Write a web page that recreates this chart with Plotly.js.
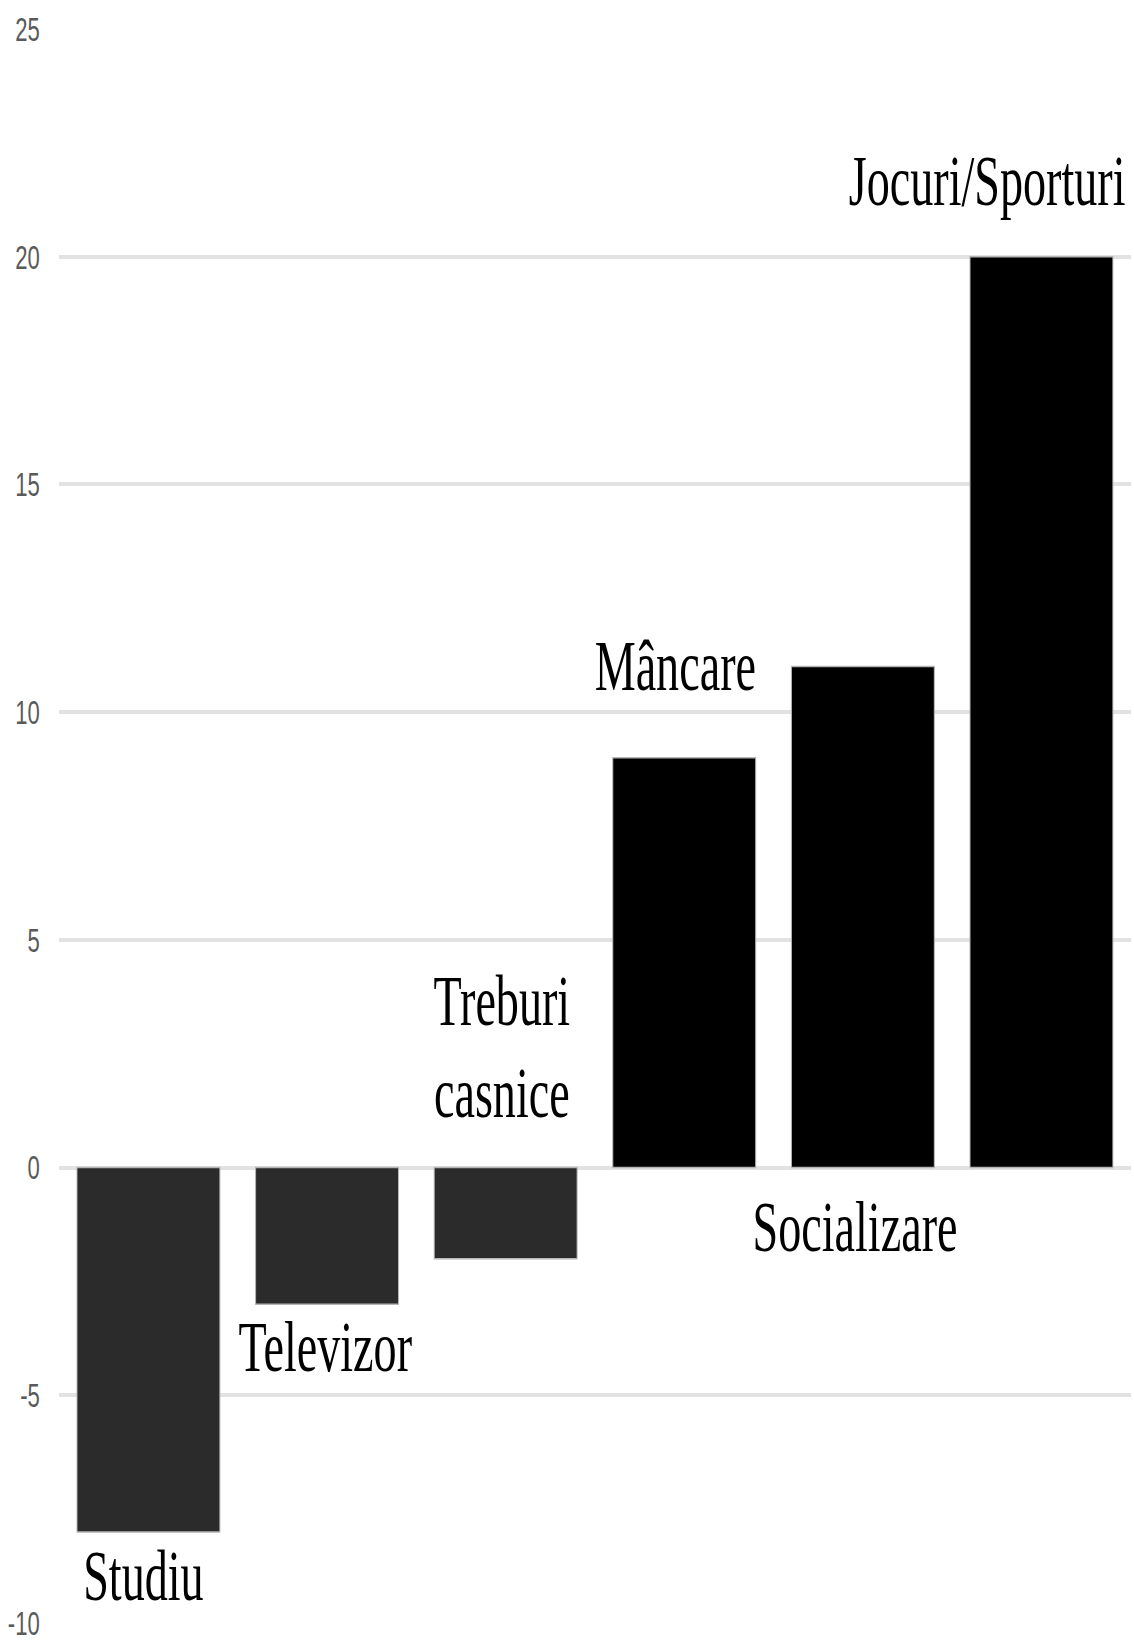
<!DOCTYPE html>
<html>
<head>
<meta charset="utf-8">
<script src="https://cdn.plot.ly/plotly-3.0.1.min.js"></script>
<style>
  html, body { margin: 0; padding: 0; overflow: hidden; background: #fff; }
  #wrap { width: 1134px; height: 1646px; overflow: hidden; }
  /* the chart is laid out wide and squeezed horizontally, giving tall narrow lettering */
  #chart { width: 1745px; height: 1646px; transform: scaleX(0.64986); transform-origin: 0 0; }
</style>
</head>
<body>
<div id="wrap"><div id="chart"></div></div>
<script>
// Activity categories and their change values
const categories = ['Studiu', 'Televizor', 'Treburi casnice', 'Mâncare', 'Socializare', 'Jocuri/Sporturi'];
const values = [-8, -3, -2, 9, 11, 20];
const labelTexts = ['Studiu', 'Televizor', 'Treburi<br>casnice', 'Mâncare', 'Socializare', 'Jocuri/Sporturi'];
const tickValues = [-10, -5, 0, 5, 10, 15, 20, 25];

// label placement: anchor at bar end or at zero, then shift in pixels
const labelPlacement = [
  { atZero: false, yanchor: 'middle', xshift: -8,  yshift: -44 },
  { atZero: false, yanchor: 'middle', xshift: -3,  yshift: -43 },
  { atZero: true,  yanchor: 'bottom', xshift: -6,  yshift: 34 },
  { atZero: false, yanchor: 'middle', xshift: -14, yshift: 92 },
  { atZero: true,  yanchor: 'middle', xshift: -12, yshift: -59 },
  { atZero: false, yanchor: 'middle', xshift: -84, yshift: 76 }
];

const barColors = values.map(v => v < 0 ? '#2b2b2b' : '#000000');

const trace = {
  type: 'bar',
  x: categories,
  y: values,
  marker: { color: barColors, line: { color: '#b5b5b5', width: 1.5 } },
  hoverinfo: 'x+y'
};

const labelFont = { family: 'Liberation Serif, Times New Roman, serif', size: 71, color: '#000' };

const annotations = categories.map((c, i) => {
  const p = labelPlacement[i];
  return {
    x: c,
    y: p.atZero ? 0 : values[i],
    xref: 'x', yref: 'y',
    text: labelTexts[i],
    showarrow: false,
    xanchor: 'center',
    yanchor: p.yanchor,
    xshift: p.xshift,
    yshift: p.yshift,
    font: labelFont
  };
});

const layout = {
  width: 1745,
  height: 1646,
  margin: { l: 91, r: 5, t: 29, b: 23 },
  paper_bgcolor: '#ffffff',
  plot_bgcolor: '#ffffff',
  showlegend: false,
  bargap: 0.2,
  xaxis: {
    type: 'category',
    range: [-0.5, 5.5],
    showticklabels: false,
    showgrid: false,
    zeroline: false,
    showline: false,
    ticks: ''
  },
  yaxis: {
    range: [-10, 25],
    tickvals: tickValues,
    ticktext: tickValues.map(String),
    showgrid: true,
    gridcolor: '#e2e2e2',
    gridwidth: 4,
    zeroline: false,
    showline: false,
    ticks: 'outside',
    ticklen: 22,
    tickcolor: 'rgba(0,0,0,0)',
    tickfont: { family: 'Liberation Sans Narrow, Liberation Sans, Arial, sans-serif', size: 34, color: '#5a5a5a' }
  },
  annotations: annotations
};

Plotly.newPlot('chart', [trace], layout, { displayModeBar: false, staticPlot: true });
</script>
</body>
</html>
